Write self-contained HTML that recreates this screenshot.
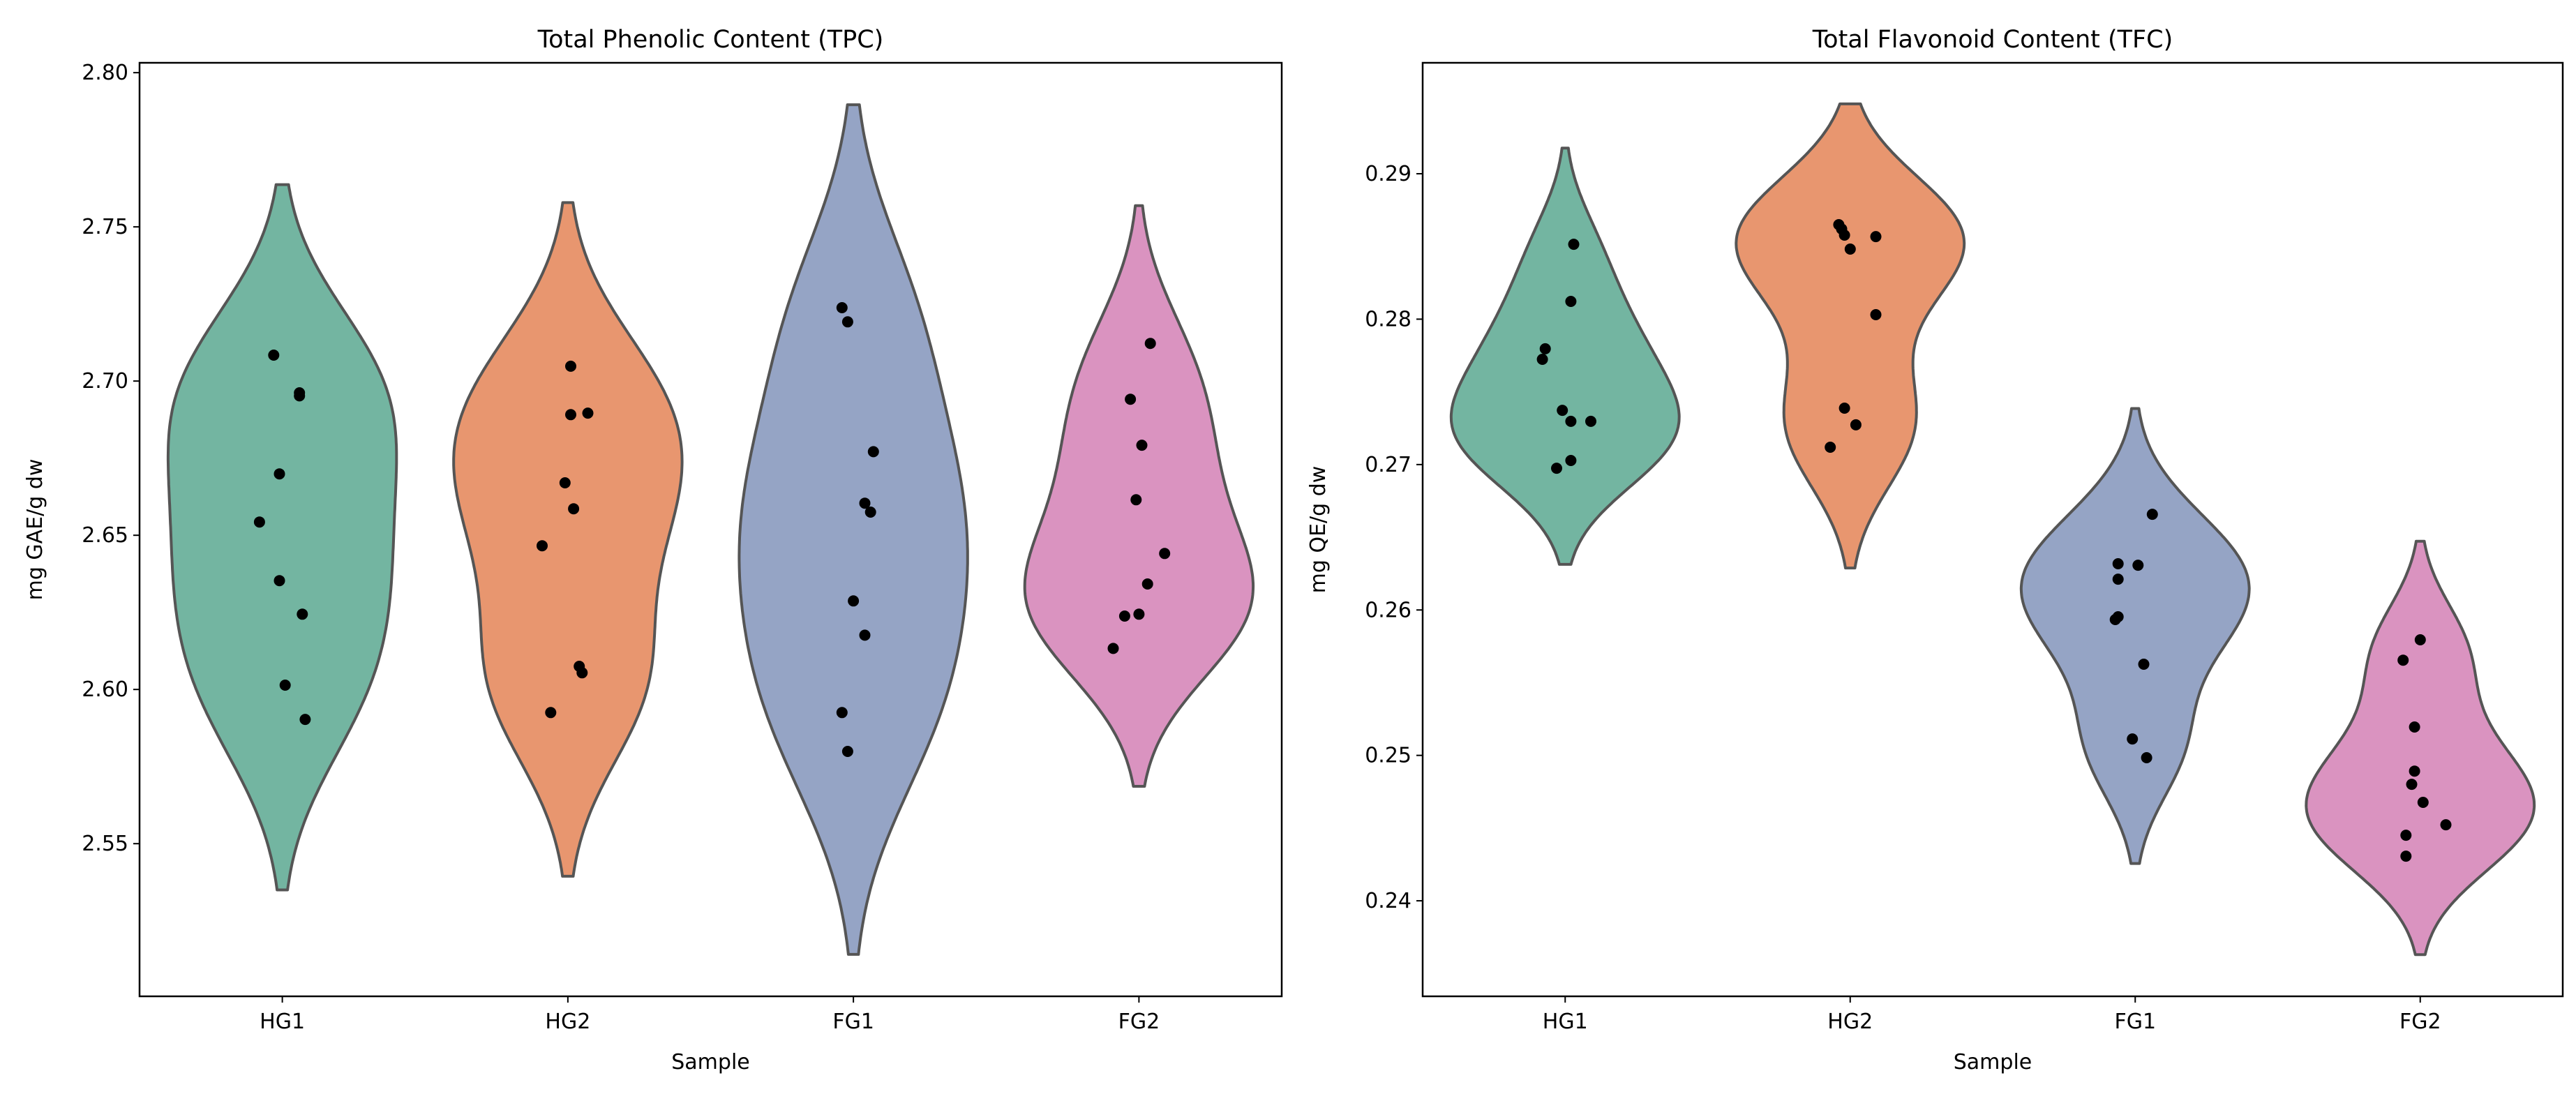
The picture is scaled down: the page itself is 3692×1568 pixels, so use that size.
<!DOCTYPE html>
<html><head><meta charset="utf-8"><style>
html,body{margin:0;padding:0;background:#fff;}
svg{display:block;font-family:"DejaVu Sans","Liberation Sans",sans-serif;}
</style></head><body>
<svg id="fig" width="3692" height="1568" xmlns="http://www.w3.org/2000/svg"></svg>
<script>
const categories = ["HG1","HG2","FG1","FG2"];
const tpcHG1 = [2.7084,2.6962,2.6952,2.6699,2.6543,2.6353,2.6244,2.6014,2.5903];
const tpcHG2 = [2.7048,2.6891,2.6896,2.6670,2.6586,2.6466,2.6075,2.6054,2.5925];
const tpcFG1 = [2.7238,2.7192,2.6771,2.6604,2.6575,2.6287,2.6176,2.5925,2.5799];
const tpcFG2 = [2.7122,2.6941,2.6792,2.6615,2.6441,2.6342,2.6238,2.6244,2.6133];
const tfcHG1 = [0.28515,0.28122,0.27796,0.27724,0.27373,0.27297,0.27297,0.27028,0.26975];
const tfcHG2 = [0.28650,0.28620,0.28578,0.28482,0.28568,0.28031,0.27388,0.27273,0.27119];
const tfcFG1 = [0.26658,0.26318,0.26308,0.26212,0.25953,0.25934,0.25627,0.25113,0.24984];
const tfcFG2 = [0.25795,0.25655,0.25195,0.24892,0.24801,0.24677,0.24523,0.24451,0.24307];
const jitHG1 = [-0.03,0.06,0.06,-0.01,-0.08,-0.01,0.07,0.01,0.08];
const jitHG2 = [0.01,0.01,0.07,-0.01,0.02,-0.09,0.04,0.05,-0.06];
const jitFG1 = [-0.04,-0.02,0.07,0.04,0.06,0.0,0.04,-0.04,-0.02];
const jitFG2 = [0.04,-0.03,0.01,-0.01,0.09,0.03,-0.05,0.0,-0.09];
const jitRHG1 = [0.03,0.02,-0.07,-0.08,-0.01,0.02,0.09,0.02,-0.03];
const jitRHG2 = [-0.04,-0.03,-0.02,0.0,0.09,0.09,-0.02,0.02,-0.07];
const jitRFG1 = [0.06,-0.06,0.01,-0.06,-0.06,-0.07,0.03,-0.01,0.04];
const jitRFG2 = [0.0,-0.06,-0.02,-0.02,-0.03,0.01,0.09,-0.05,-0.05];
const tpcTicks = [2.55,2.60,2.65,2.70,2.75,2.80];
const tfcTicks = [0.24,0.25,0.26,0.27,0.28,0.29];
const colors = ["#73b5a1","#e8966f","#95a4c5","#da93c0"];

const NS="http://www.w3.org/2000/svg";
const svg=document.getElementById('fig');
function mk(tag,attrs,parent,text){const e=document.createElementNS(NS,tag);for(const k in attrs)e.setAttribute(k,attrs[k]);if(text!==undefined)e.textContent=text;(parent||svg).appendChild(e);return e;}

function kde(data){
  const n=data.length,m=data.reduce((a,b)=>a+b,0)/n;
  const sd=Math.sqrt(data.reduce((a,b)=>a+(b-m)*(b-m),0)/(n-1));
  const bw=sd*Math.pow(n,-0.2);
  const lo=Math.min(...data)-2*bw,hi=Math.max(...data)+2*bw;
  const pts=[];
  for(let i=0;i<=200;i++){const v=lo+(hi-lo)*i/200;let d=0;for(const x of data){const z=(v-x)/bw;d+=Math.exp(-0.5*z*z);}pts.push([v,d]);}
  return pts;
}

function panel(cfg){
  const {x0,x1,y0,y1,vmin,vmax,series,jits,ticks,fmt,title,ylabel,prefix}=cfg;
  const g=mk('g',{});
  
  
  const ys=v=>y1-(v-vmin)/(vmax-vmin)*(y1-y0);
  const step=(x1-x0)/4;
  const xs=i=>x0+step*(i+0.5);
  const hw=step*0.4;
  series.forEach((data,i)=>{
    const pts=kde(data);const mx=Math.max(...pts.map(p=>p[1]));
    let d='';
    pts.forEach((p,k)=>{d+=(k?'L':'M')+(xs(i)+p[1]/mx*hw).toFixed(1)+','+ys(p[0]).toFixed(1);});
    for(let k=pts.length-1;k>=0;k--){const p=pts[k];d+='L'+(xs(i)-p[1]/mx*hw).toFixed(1)+','+ys(p[0]).toFixed(1);}
    d+='Z';
    const v=mk('path',{d:d,fill:colors[i],stroke:'#555','stroke-width':4,'stroke-linejoin':'round'},g);
    
    
  });
  series.forEach((data,i)=>{
    data.forEach((val,k)=>{
      const c=mk('circle',{cx:(xs(i)+jits[i][k]*step).toFixed(1),cy:ys(val).toFixed(1),r:8,fill:'#000'},g);
      
      
    });
  });
  const fr=mk('rect',{x:x0,y:y0,width:x1-x0,height:y1-y0,fill:'none',stroke:'#000','stroke-width':2.5},g);
  
  
  ticks.forEach(t=>{
    const y=ys(t);
    mk('line',{x1:x0-9,x2:x0,y1:y,y2:y,stroke:'#000','stroke-width':2},g);
    const tl=mk('text',{x:x0-16,y:y+10,'font-size':30,'text-anchor':'end',fill:'#000'},g,fmt(t));
    
    
  });
  categories.forEach((c,i)=>{
    mk('line',{x1:xs(i),x2:xs(i),y1:y1,y2:y1+9,stroke:'#000','stroke-width':2},g);
    const tl=mk('text',{x:xs(i),y:y1+46,'font-size':30,'text-anchor':'middle',fill:'#000'},g,c);
    
    
  });
  const tt=mk('text',{x:(x0+x1)/2,y:y0-22,'font-size':35,'text-anchor':'middle',fill:'#000'},g,title);
  
  
  const xl=mk('text',{x:(x0+x1)/2,y:y1+104,'font-size':30,'text-anchor':'middle',fill:'#000'},g,'Sample');
  
  
  const cy=(y0+y1)/2,cx=x0-140;
  const yl=mk('text',{x:cx,y:cy,'font-size':30,'text-anchor':'middle',fill:'#000',transform:'rotate(-90 '+cx+' '+cy+')'},g,ylabel);
  
  
}

panel({x0:200,x1:1837,y0:90,y1:1428,vmin:2.5005,vmax:2.8032,
  series:[tpcHG1,tpcHG2,tpcFG1,tpcFG2],jits:[jitHG1,jitHG2,jitFG1,jitFG2],
  ticks:tpcTicks,fmt:t=>t.toFixed(2),title:'Total Phenolic Content (TPC)',ylabel:'mg GAE/g dw',prefix:'tpc'});
panel({x0:2039,x1:3673,y0:90,y1:1428,vmin:0.23343,vmax:0.29763,
  series:[tfcHG1,tfcHG2,tfcFG1,tfcFG2],jits:[jitRHG1,jitRHG2,jitRFG1,jitRFG2],
  ticks:tfcTicks,fmt:t=>t.toFixed(2),title:'Total Flavonoid Content (TFC)',ylabel:'mg QE/g dw',prefix:'tfc'});
</script>
</body></html>
